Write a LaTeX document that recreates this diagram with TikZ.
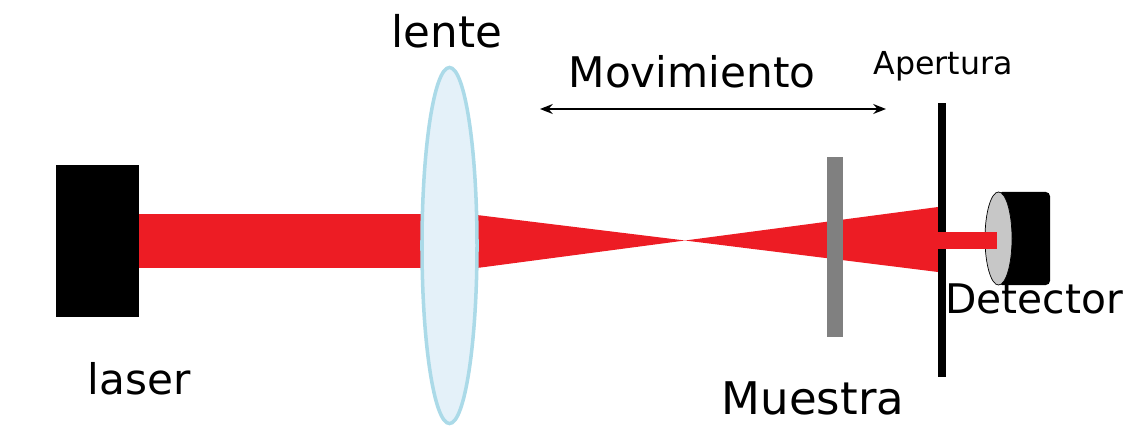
\documentclass[tikz,border=0pt]{standalone}
\usepackage{fontspec}
\setmainfont{DejaVu Sans}
\usepackage{xcolor}
\usetikzlibrary{positioning,shapes.geometric,arrows.meta,backgrounds}
\definecolor{beamred}{HTML}{ED1C24}
\definecolor{lensfill}{HTML}{E4F1F9}
\definecolor{lensline}{HTML}{ABDAE8}

\begin{document}
\begin{tikzpicture}[
    x=0.025cm,y=-0.025cm,
    block/.style={rectangle,inner sep=0pt,minimum width=#1},
    label/.style={inner sep=0pt,font=\fontsize{30}{34}\selectfont},
    beam/.style={draw=beamred,line cap=butt},
    arrow/.style={{Stealth[length=9pt,width=7pt]}-{Stealth[length=9pt,width=7pt]},line width=2pt}]
    \useasboundingbox (0,0) rectangle (1127,436);
    \node[block=2.075cm,fill=black,minimum height=3.775cm] (laser) at (97.5,241) {};
    \node[ellipse,inner sep=0pt,minimum width=1.375cm,minimum height=8.9cm,
        fill=lensfill,draw=lensline,line width=2.5pt] (lens) at (449.5,245.5) {};
    \node[block=0.4cm,fill=black!50,minimum height=4.5cm] (sample) at (835,247) {};
    \node[block=0.2cm,fill=black,minimum height=6.85cm] (aperture) at (942,240) {};
    \node[block=1.3cm,fill=black,rounded corners=3pt,minimum height=2.325cm] (body) at (1024,238.5) {};
    \node[ellipse,inner sep=0pt,minimum width=0.675cm,minimum height=2.325cm,
        fill=black!22,draw=black,line width=0.5pt] (face) at (998.5,238.5) {};
    \coordinate (focus) at (685,240.5);
    % beams go behind the optics
    \begin{scope}[on background layer]
    \draw[beam,line width=1.325cm] (laser.east) -- (laser.east -| lens);
    \fill[beamred] (477,215) -- (focus) -- (477,268) -- cycle;
    \fill[beamred] (focus) -- (938,207) -- (938,272) -- cycle;
    \end{scope}
    \draw[beam,line width=0.425cm] (aperture.west |- focus) -- (997,240.5);
    \coordinate (moveleft) at (540,109);
    \coordinate (moveright) at (886,109);
    \draw[arrow] (moveleft) -- (moveright);
    \node[label,font=\fontsize{31}{34}\selectfont] (lenslabel) at (447,31) {lente};
    \node[label] (movelabel) at (692,72) {Movimiento};
    \node[label,font=\fontsize{22.5}{26}\selectfont] (aperturelabel) at (943,66) {Apertura};
    \node[label,font=\fontsize{29}{34}\selectfont] (detectorlabel) at (1034,299) {Detector};
    \node[label,font=\fontsize{32}{36}\selectfont] (samplelabel) at (813,398) {Muestra};
    \node[label] (laserlabel) at (139,379) {laser};
\end{tikzpicture}
\end{document}
